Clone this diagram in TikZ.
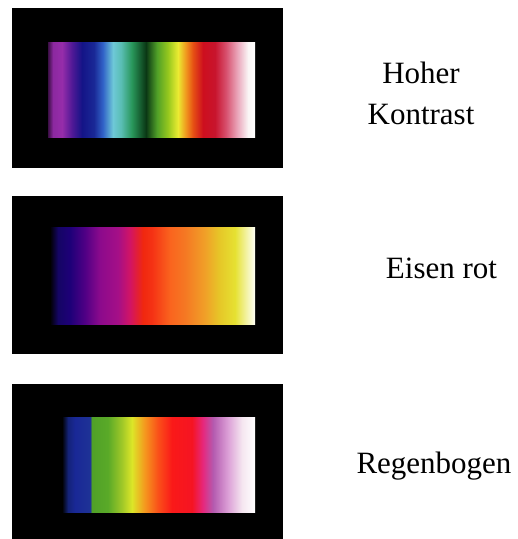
\documentclass[tikz,border=0pt]{standalone}
\usepackage{fontspec}
\setmainfont{Liberation Serif}

\definecolor{hkA}{HTML}{3C0F46}
\definecolor{hkB}{HTML}{8C28A0}
\definecolor{hkC}{HTML}{962DAA}
\definecolor{hkD}{HTML}{501996}
\definecolor{hkE}{HTML}{141487}
\definecolor{hkF}{HTML}{192896}
\definecolor{hkG}{HTML}{3264C8}
\definecolor{hkH}{HTML}{6EC8D7}
\definecolor{hkI}{HTML}{5ABEB4}
\definecolor{hkJ}{HTML}{28965A}
\definecolor{hkK}{HTML}{0A3714}
\definecolor{hkL}{HTML}{50A028}
\definecolor{hkM}{HTML}{96C81E}
\definecolor{hkN}{HTML}{EBEB32}
\definecolor{hkO}{HTML}{F0961E}
\definecolor{hkP}{HTML}{E65014}
\definecolor{hkQ}{HTML}{CD0F1E}
\definecolor{hkR}{HTML}{C8142D}
\definecolor{hkS}{HTML}{D7506E}
\definecolor{hkT}{HTML}{EBAABE}
\definecolor{hkU}{HTML}{FAF5F5}
\definecolor{hkV}{HTML}{FFFFFF}

\definecolor{erA}{HTML}{000000}
\definecolor{erB}{HTML}{140564}
\definecolor{erC}{HTML}{1E0078}
\definecolor{erD}{HTML}{500085}
\definecolor{erE}{HTML}{8C0A8C}
\definecolor{erF}{HTML}{A50F87}
\definecolor{erG}{HTML}{D21464}
\definecolor{erH}{HTML}{F0280F}
\definecolor{erI}{HTML}{F53214}
\definecolor{erJ}{HTML}{FA641E}
\definecolor{erK}{HTML}{F57823}
\definecolor{erL}{HTML}{F0A028}
\definecolor{erM}{HTML}{E6C828}
\definecolor{erN}{HTML}{E6E132}
\definecolor{erO}{HTML}{F5F5B4}
\definecolor{erP}{HTML}{FFFFF5}

\definecolor{rbA}{HTML}{000000}
\definecolor{rbB}{HTML}{142378}
\definecolor{rbC}{HTML}{192896}
\definecolor{rbD}{HTML}{1E3296}
\definecolor{rbE}{HTML}{50A028}
\definecolor{rbF}{HTML}{5AAA28}
\definecolor{rbG}{HTML}{A0C828}
\definecolor{rbH}{HTML}{DCE628}
\definecolor{rbI}{HTML}{F5961E}
\definecolor{rbJ}{HTML}{FA5019}
\definecolor{rbK}{HTML}{FA1919}
\definecolor{rbL}{HTML}{F51423}
\definecolor{rbM}{HTML}{E6287D}
\definecolor{rbN}{HTML}{B45AAF}
\definecolor{rbO}{HTML}{DCA0D7}
\definecolor{rbP}{HTML}{F5E6F0}
\definecolor{rbQ}{HTML}{FFFFFF}

\pgfdeclarehorizontalshading{hoherkontrast}{100bp}{color(0bp)=(hkA); color(25bp)=(hkA);
  color(26.21bp)=(hkB); color(28.38bp)=(hkC); color(30.80bp)=(hkD); color(33.21bp)=(hkE);
  color(36.11bp)=(hkF); color(38.28bp)=(hkG); color(40.70bp)=(hkH); color(42.63bp)=(hkI);
  color(45.29bp)=(hkJ); color(48.67bp)=(hkK); color(51.33bp)=(hkL); color(53.98bp)=(hkM);
  color(56.40bp)=(hkN); color(58.33bp)=(hkO); color(60.02bp)=(hkP); color(62.43bp)=(hkQ);
  color(65.33bp)=(hkR); color(67.99bp)=(hkS); color(70.89bp)=(hkT); color(73.31bp)=(hkU);
  color(75bp)=(hkV); color(100bp)=(hkV)}

\pgfdeclarehorizontalshading{eisenrot}{100bp}{color(0bp)=(erA); color(25bp)=(erA);
  color(26.95bp)=(erB); color(29.88bp)=(erC); color(33.54bp)=(erD); color(37.20bp)=(erE);
  color(41.59bp)=(erF); color(44.51bp)=(erG); color(47.68bp)=(erH); color(49.88bp)=(erI);
  color(54.27bp)=(erJ); color(57.93bp)=(erK); color(62.80bp)=(erL); color(66.46bp)=(erM);
  color(70.12bp)=(erN); color(73.29bp)=(erO); color(75bp)=(erP); color(100bp)=(erP)}

\pgfdeclarehorizontalshading{regenbogen}{100bp}{color(0bp)=(rbA); color(25bp)=(rbA);
  color(26.55bp)=(rbB); color(28.37bp)=(rbC); color(32.25bp)=(rbD); color(32.77bp)=(rbE);
  color(36.92bp)=(rbF); color(40.54bp)=(rbG); color(43.13bp)=(rbH); color(46.50bp)=(rbI);
  color(49.87bp)=(rbJ); color(53.50bp)=(rbK); color(58.68bp)=(rbL); color(61.53bp)=(rbM);
  color(64.12bp)=(rbN); color(68.01bp)=(rbO); color(71.63bp)=(rbP); color(75bp)=(rbQ);
  color(100bp)=(rbQ)}

\begin{document}
\begin{tikzpicture}[x=1pt,y=-1pt]
\tikzset{panel/.style = {fill=black}}
\tikzset{caption/.style = {font=\fontsize{31}{41}\selectfont, anchor=base, inner sep=0pt}}
\fill[white] (0,0) rectangle (518,539);
\useasboundingbox (0,0) rectangle (518,539);

\fill[panel] (12,8) rectangle (283,168);
\shade[shading=hoherkontrast] (48,42) rectangle (255,137);

\fill[panel] (12,196) rectangle (283,354);
\shade[shading=eisenrot] (50,227) rectangle (255,324);

\fill[panel] (12,384) rectangle (283,539);
\shade[shading=regenbogen] (62,417) rectangle (255,512);

\node[caption] (hoher) at (421,83) {Hoher};
\node[caption] (kontrast) at (421,124) {Kontrast};
\node[caption] (eisenrot) at (441.5,278) {Eisen rot};
\node[caption] (regenbogen) at (434,473) {Regenbogen};
\end{tikzpicture}
\end{document}
